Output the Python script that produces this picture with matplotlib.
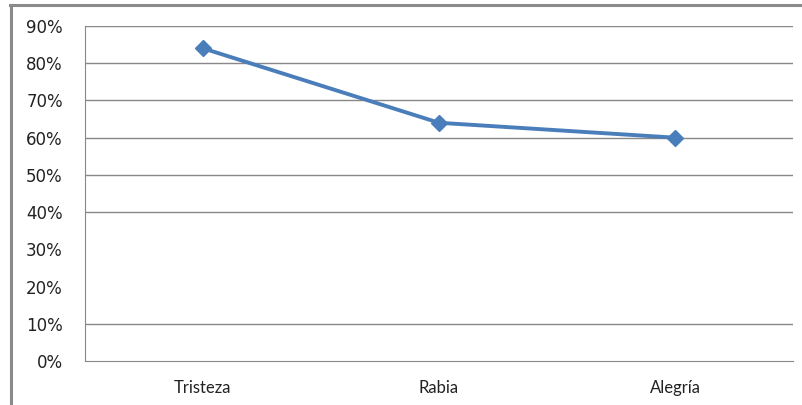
import matplotlib
matplotlib.use('Agg')
import matplotlib.pyplot as plt
from matplotlib.lines import Line2D
from matplotlib.ticker import PercentFormatter

# data
emociones = ['Tristeza', 'Rabia', 'Alegría']
porcentajes = [84, 64, 60]
y_ticks = [0, 10, 20, 30, 40, 50, 60, 70, 80, 90]
# the 20% and 30% gridlines are not visible in the source
grid_levels = [10, 40, 50, 60, 70, 80, 90]

W, H = 802, 405
fig = plt.figure(figsize=(W / 100, H / 100), dpi=100)
ax = fig.add_axes([85 / W, (H - 361) / H, (793 - 85) / W, (361 - 26) / H])

grid_col = '#888888'
for g in grid_levels:
    ax.axhline(g, color=grid_col, lw=1.0, zorder=1)

x = list(range(len(emociones)))
ax.plot(x, porcentajes, color='#4A7EBB', lw=2.8, marker='D', ms=8,
        markerfacecolor='#4A7EBB', markeredgecolor='#4A7EBB', zorder=3)

ax.set_xlim(-0.5, len(emociones) - 0.5)
ax.set_ylim(0, 90)
ax.set_yticks(y_ticks)
ax.yaxis.set_major_formatter(PercentFormatter(decimals=0))
ax.set_xticks(x)
ax.set_xticklabels(emociones)

ax.tick_params(axis='y', length=0, pad=16, labelsize=12,
               labelcolor='#222222', labelfontfamily='DejaVu Sans')
ax.tick_params(axis='x', length=0, pad=14, labelsize=12,
               labelcolor='#222222', labelfontfamily='Lato')
for s in ['top', 'right']:
    ax.spines[s].set_visible(False)
ax.spines['left'].set_color(grid_col)
ax.spines['bottom'].set_color(grid_col)

# outer frame of the scanned figure
fig.add_artist(Line2D([10 / W, 1], [1 - 4.5 / H, 1 - 4.5 / H], color='#8a8a8a', lw=2.2))
fig.add_artist(Line2D([11 / W, 11 / W], [0, 1 - 4.5 / H], color='#8a8a8a', lw=2.2))

fig.savefig('out.png', dpi=100)
